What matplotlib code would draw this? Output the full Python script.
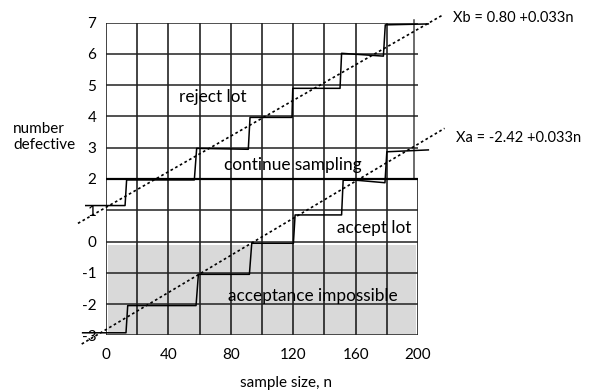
import matplotlib.pyplot as plt

plt.rcParams['font.family'] = ['Lato', 'DejaVu Sans']

# axis ticks
x_ticks = [0, 40, 80, 120, 160, 200]
y_ticks = [-3, -2, -1, 0, 1, 2, 3, 4, 5, 6, 7]
x_grid = [0, 20, 40, 60, 80, 100, 120, 140, 160, 180, 200]

# staircase paths (n, number defective)
upper_step_n = [-13, 12.2, 13.2, 56.6, 58.1, 91.2, 92.3, 119.2, 119.7, 150, 151, 177.8, 179, 206.6]
upper_step_d = [1.15, 1.15, 1.97, 1.97, 2.98, 2.95, 3.97, 3.97, 4.9, 4.9, 6.02, 5.93, 6.93, 6.96]
lower_step_n = [-15, 12.8, 13.9, 57.7, 59.2, 91.9, 93.4, 120.1, 121.2, 151, 152, 160.5, 178.8, 180, 206.6]
lower_step_d = [-2.92, -2.92, -2.05, -2.05, -1.05, -1.05, -0.06, -0.06, 0.85, 0.85, 1.96, 1.96, 1.88, 2.87, 2.93]

# decision lines (end points as drawn)
xb_n = [-18, 216]
xb_d = [0.58, 7.25]
xa_n = [-15.6, 217]
xa_d = [-3.28, 3.62]

fig = plt.figure(figsize=(5.96, 3.91), dpi=100)
ax = fig.add_axes([0.1779, 0.1425, 0.5235, 0.7995])
ax.set_xlim(0, 200)
ax.set_ylim(-3, 7)
for s in ax.spines.values():
    s.set_visible(False)

# acceptance impossible shading
ax.fill_between([1, 199], -3, -0.1, color='#d9d9d9', lw=0, zorder=0)

# grid: lower block up to 2, upper block from 2 to 7
for x in x_grid:
    ax.plot([x, x], [-3, 2], color='#111111', lw=1.1, zorder=1)
    if x < 200:
        ax.plot([x, x], [2, 7], color='#111111', lw=1.1, zorder=1)
ax.plot([197.5, 197.5], [2, 7.08], color='#444444', lw=1.1, zorder=1, clip_on=False)
for y in y_ticks:
    ax.plot([0, 200], [y, y], color='#222222', lw=1.1, zorder=1)
ax.plot([0, 200], [2, 2], color='black', lw=1.6, zorder=1)

ax.plot(upper_step_n, upper_step_d, color='black', lw=1.1, zorder=3, clip_on=False)
ax.plot(lower_step_n, lower_step_d, color='black', lw=1.1, zorder=3, clip_on=False)
ax.plot(xb_n, xb_d, color='black', lw=1.2, ls=(0, (1.6, 1.6)), zorder=4, clip_on=False)
ax.plot(xa_n, xa_d, color='black', lw=1.2, ls=(0, (1.6, 1.6)), zorder=4, clip_on=False)

fs = 11
rs = 12.4
ax.text(68.6, 4.62, 'reject lot', ha='center', va='center', fontsize=rs)
ax.text(120, 2.45, 'continue sampling', ha='center', va='center', fontsize=rs)
ax.text(172, 0.42, 'accept lot', ha='center', va='center', fontsize=rs)
ax.text(132.7, -1.74, 'acceptance impossible', ha='center', va='center', fontsize=rs)
ax.text(222.2, 7.15, 'Xb = 0.80 +0.033n', ha='left', va='center', fontsize=10.5, clip_on=False)
ax.text(224.2, 3.3, 'Xa = -2.42 +0.033n', ha='left', va='center', fontsize=10.5, clip_on=False)

ax.set_xticks(x_ticks)
ax.set_xticklabels([str(v) for v in x_ticks], fontsize=fs)
ax.set_yticks(y_ticks)
ax.set_yticklabels([str(v) for v in y_ticks], fontsize=fs)
ax.tick_params(length=0)
ax.tick_params(axis='x', pad=9)
ax.tick_params(axis='y', pad=7)

fig.text(13 / 596, 1 - 137 / 391, 'number\ndefective', ha='left', va='center', fontsize=fs, linespacing=1.25)
fig.text(286 / 596, 1 - 383 / 391, 'sample size, n', ha='center', va='center', fontsize=fs)

fig.savefig('out.png', dpi=100)
